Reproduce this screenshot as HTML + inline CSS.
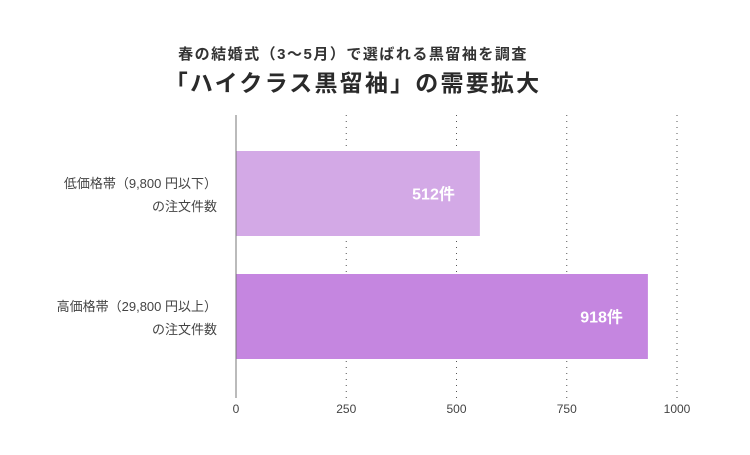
<!DOCTYPE html>
<html><head><meta charset="utf-8">
<style>
html,body{margin:0;padding:0;background:#fff;}
body{width:750px;height:450px;overflow:hidden;font-family:"Liberation Sans","Noto Sans CJK JP",sans-serif;}
</style></head>
<body>
<svg width="750" height="450" viewBox="0 0 750 450" xmlns="http://www.w3.org/2000/svg" font-family="Liberation Sans, Noto Sans CJK JP, sans-serif">
<text x="353" y="59" text-anchor="middle" font-size="15" font-weight="bold" letter-spacing="1.5" fill="#333">春の結婚式（3〜5月）で選ばれる黒留袖を調査</text>
<text x="353" y="91" text-anchor="middle" font-size="23" font-weight="bold" letter-spacing="2.2" fill="#2a2a2a">「ハイクラス黒留袖」の需要拡大</text>
<g id="grid"></g>
<g id="bars"></g>
<g id="ylabels"></g>
<g id="xticks"></g>
<line x1="236" y1="115" x2="236" y2="398" stroke="#777" stroke-width="1"/>
</svg>
<script>
const categoriesLine1 = ["低価格帯（9,800 円以下）", "高価格帯（29,800 円以上）"];
const categoriesLine2 = ["の注文件数", "の注文件数"];
const values = [553, 934];
const valueLabels = ["512件", "918件"];
const xTicks = [0, 250, 500, 750, 1000];
const barColors = ["#d3a9e6", "#c586e0"];

const NS = "http://www.w3.org/2000/svg";
const x0 = 236, x1 = 677, xMax = 1000;
const xs = v => x0 + (v / xMax) * (x1 - x0);
const bandTop = 132, bandH = 123;
const ys = i => bandTop + i * bandH;
const barH = 85;

function mk(tag, attrs, parent) {
  const e = document.createElementNS(NS, tag);
  for (const k in attrs) e.setAttribute(k, attrs[k]);
  parent.appendChild(e);
  return e;
}
const grid = document.getElementById('grid');
const bars = document.getElementById('bars');
const yl = document.getElementById('ylabels');
const xt = document.getElementById('xticks');

xTicks.forEach((t) => {
  if (t > 0) {
    const l = mk('line', {x1: xs(t), x2: xs(t), y1: 115, y2: 398, stroke: '#555', 'stroke-width': 1, 'stroke-dasharray': '1 5'}, grid);
    
    
  }
  const tx = mk('text', {x: xs(t), y: 413, 'text-anchor': 'middle', 'font-size': 12, fill: '#444'}, xt);
  tx.textContent = t;
  
  
});

values.forEach((v, i) => {
  const top = ys(i) + 19;
  const r = mk('rect', {x: x0, y: top, width: xs(v) - x0, height: barH, fill: barColors[i]}, bars);
  
  
  const lb = mk('text', {x: xs(v) - 25, y: top + barH / 2 + 6, 'text-anchor': 'end', 'font-size': 16, 'font-weight': 'bold', fill: '#fff'}, bars);
  lb.textContent = valueLabels[i];
  
  
  const c1 = mk('text', {x: 217, y: top + 37, 'text-anchor': 'end', 'font-size': 13, fill: '#444'}, yl);
  c1.textContent = categoriesLine1[i];
  
  
  const c2 = mk('text', {x: 217, y: top + 60, 'text-anchor': 'end', 'font-size': 13, fill: '#444'}, yl);
  c2.textContent = categoriesLine2[i];
  
  
});
</script>
</body></html>
